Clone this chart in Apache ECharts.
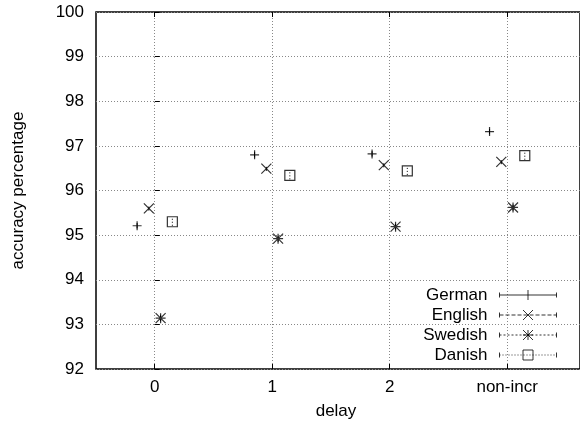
<!DOCTYPE html>
<html>
<head>
<meta charset="utf-8">
<script src="https://cdn.jsdelivr.net/npm/echarts@6/dist/echarts.min.js"></script>
<style>html,body{margin:0;padding:0;background:#fff;}#c{width:580px;height:428px;}</style>
</head>
<body>
<div id="c"></div>
<script>
// ---- data ----
const xLabels = ['0', '1', '2', 'non-incr'];
const xPositions = [0, 1, 2, 3];
const seriesNames = ['German', 'English', 'Swedish', 'Danish'];
const germanAcc  = [95.21, 96.80, 96.82, 97.32];
const englishAcc = [95.60, 96.49, 96.57, 96.64];
const swedishAcc = [93.14, 94.92, 95.19, 95.62];
const danishAcc  = [95.30, 96.34, 96.44, 96.78];
const germanErr  = [0.06, 0.06, 0.06, 0.06];
const englishErr = [0.05, 0.05, 0.05, 0.05];
const swedishErr = [0.07, 0.07, 0.07, 0.07];
const danishErr  = [0.09, 0.09, 0.09, 0.09];
const yTicks = [92, 93, 94, 95, 96, 97, 98, 99, 100];

// ---- styling ----
const FONT = "'Liberation Sans', Arial, sans-serif";
const FS = 17;
const offsets = [-0.15, -0.05, 0.05, 0.15];
const accs = [germanAcc, englishAcc, swedishAcc, danishAcc];
const errs = [germanErr, englishErr, swedishErr, danishErr];
const markers = [
  'path://M0 5L10 5M5 0L5 10',
  'path://M0 0L10 10M0 10L10 0',
  'path://M0 5L10 5M5 0L5 10M0 0L10 10M0 10L10 0',
  'rect'
];
const markerSizes = [9, 10, 10, 10];
const dashes = [null, [4, 2], [2, 2], [1, 2]];

function seg(x0, x1, y, pat) {
  if (!pat) return `M${x0} ${y}L${x1} ${y}`;
  let s = '';
  for (let x = x0; x < x1; x += pat[0] + pat[1]) {
    s += `M${x} ${y}L${Math.min(x + pat[0], x1)} ${y}`;
  }
  return s;
}
const W = 57, H = 10, cx = 28.5;
const legendMarks = [
  `M${cx} 0L${cx} 10`,
  `M${cx-5} 0L${cx+5} 10M${cx-5} 10L${cx+5} 0`,
  `M${cx} 0L${cx} 10M${cx-5} 0L${cx+5} 10M${cx-5} 10L${cx+5} 0M${cx-5} 5L${cx+5} 5`,
  `M${cx-5} 0L${cx+5} 0L${cx+5} 10L${cx-5} 10Z`
];
function legendIcon(i) {
  return 'path://' + seg(0, W, 5, dashes[i]) +
    `M0 2.5L0 7.5M${W} 2.5L${W} 7.5` + legendMarks[i];
}

const series = [];
seriesNames.forEach((name, i) => {
  series.push({
    name: name,
    type: 'scatter',
    symbol: markers[i],
    symbolSize: markerSizes[i],
    itemStyle: { color: 'rgba(0,0,0,0)', borderColor: '#000', borderWidth: 1.2 },
    emphasis: { disabled: true },
    data: xPositions.map((x, k) => [x + offsets[i], accs[i][k]]),
    z: 3
  });
  series.push({
    name: name + '-err',
    type: 'custom',
    data: xPositions.map((x, k) => [x + offsets[i], accs[i][k], errs[i][k]]),
    renderItem: function (params, api) {
      const x = api.value(0), y = api.value(1), e = api.value(2);
      const p1 = api.coord([x, y - e]);
      const p2 = api.coord([x, y + e]);
      return {
        type: 'line',
        shape: { x1: p1[0], y1: p1[1], x2: p2[0], y2: p2[1] },
        style: { stroke: '#000', lineWidth: 1, lineDash: dashes[i] || null }
      };
    },
    z: 2
  });
});

const chart = echarts.init(document.getElementById('c'), null, { renderer: 'canvas' });
chart.setOption({
  animation: false,
  backgroundColor: '#fff',
  textStyle: { fontFamily: FONT },
  grid: { left: 96, right: -4, top: 12, bottom: 59, show: true, borderColor: '#000', borderWidth: 1.5, backgroundColor: 'transparent' },
  legend: {
    data: seriesNames.map((n, i) => ({ name: n, icon: legendIcon(i) })),
    orient: 'vertical',
    align: 'right',
    right: 23,
    top: 285,
    padding: 0,
    itemGap: 0,
    itemWidth: W,
    itemHeight: H,
    selectedMode: false,
    itemStyle: { color: 'rgba(0,0,0,0)', borderColor: '#000', borderWidth: 1 },
    textStyle: { fontFamily: FONT, fontSize: FS, color: '#000', lineHeight: 20, padding: [0, 7, 0, 0] }
  },
  xAxis: [{
    type: 'value',
    min: -0.5,
    max: 3.62,
    position: 'bottom',
    name: 'delay',
    nameLocation: 'middle',
    nameGap: 34,
    nameTextStyle: { fontFamily: FONT, fontSize: FS, color: '#000', padding: [0, 4, 0, 0] },
    axisLine: { show: false },
    axisTick: { show: true, inside: true, length: 5, customValues: xPositions, lineStyle: { color: '#000' } },
    axisLabel: {
      customValues: xPositions,
      margin: 10,
      fontFamily: FONT, fontSize: FS, color: '#000',
      formatter: v => xLabels[xPositions.indexOf(Math.round(v))] || ''
    },
    splitLine: { show: true, customValues: xPositions, lineStyle: { color: '#888', type: [1, 2], width: 1 } }
  }, {
    type: 'value',
    min: -0.5,
    max: 3.62,
    position: 'top',
    axisLine: { show: false },
    axisTick: { show: true, inside: true, length: 5, customValues: xPositions, lineStyle: { color: '#000' } },
    axisLabel: { show: false, customValues: xPositions },
    splitLine: { show: false }
  }],
  yAxis: {
    type: 'value',
    min: 92,
    max: 100,
    interval: 1,
    name: 'accuracy percentage',
    nameLocation: 'middle',
    nameGap: 69,
    nameTextStyle: { fontFamily: FONT, fontSize: FS, color: '#000' },
    axisLine: { show: false },
    axisTick: { show: true, inside: true, length: 5, lineStyle: { color: '#000' } },
    axisLabel: { margin: 12, fontFamily: FONT, fontSize: FS, color: '#000',
      formatter: v => yTicks.indexOf(v) >= 0 ? String(v) : '' },
    splitLine: { show: true, lineStyle: { color: '#888', type: [1, 2], width: 1 } }
  },
  series: series
});
</script>
</body>
</html>
